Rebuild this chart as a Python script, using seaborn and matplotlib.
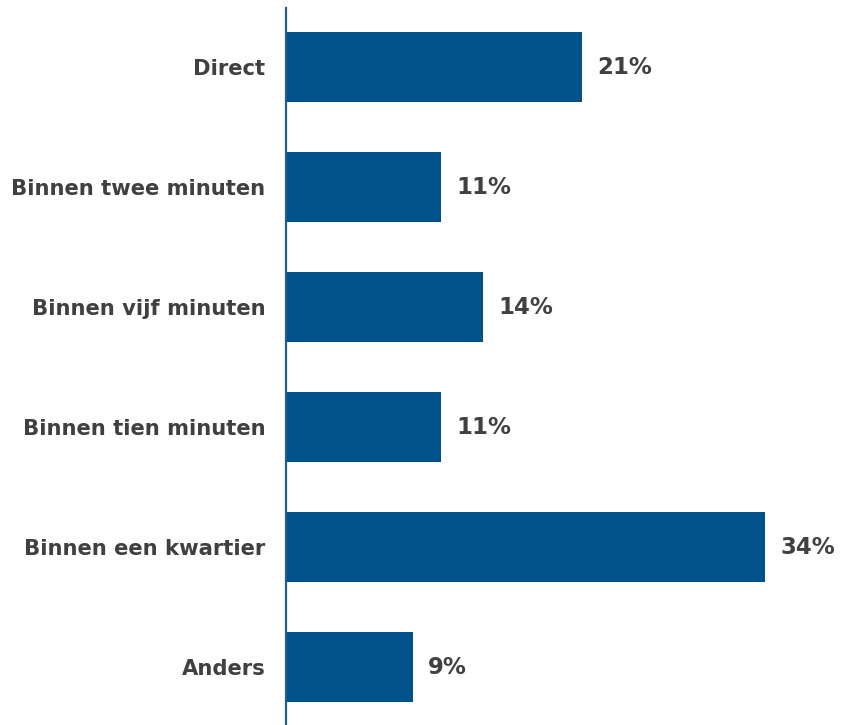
import matplotlib
matplotlib.use("Agg")
import matplotlib.pyplot as plt
import seaborn as sns
import pandas as pd

categories = ["Direct", "Binnen twee minuten", "Binnen vijf minuten",
              "Binnen tien minuten", "Binnen een kwartier", "Anders"]
percentages = [21, 11, 14, 11, 34, 9]
value_labels = ["21%", "11%", "14%", "11%", "34%", "9%"]

df = pd.DataFrame({"categorie": categories, "percentage": percentages})

sns.set_theme(style="white")
plt.rcParams["font.family"] = ["DejaVu Sans"]

bar_color = "#00528A"
text_color = "#404040"

fig = plt.figure(figsize=(8.41, 7.25), dpi=100)
ax = fig.add_axes([286 / 841, 0.0, 1 - 286 / 841, 1 - 8 / 725])

sns.barplot(data=df, x="percentage", y="categorie", order=categories,
            color=bar_color, saturation=1, width=0.59, linewidth=0,
            ax=ax, orient="h")

ax.set_xlim(0, 39.4)
ax.set_ylim(5.483, -0.492)

for i, (v, lab) in enumerate(zip(percentages, value_labels)):
    ax.annotate(lab, xy=(v, i), xytext=(11, 0), textcoords="offset points",
                ha="left", va="center", fontsize=16.5, fontweight="bold",
                color=text_color)

ax.set_xlabel("")
ax.set_ylabel("")
ax.set_xticks([])
ax.tick_params(axis="y", length=0, pad=15)
for t in ax.get_yticklabels():
    t.set_fontsize(15.2)
    t.set_fontweight("bold")
    t.set_color(text_color)

for side in ["top", "right", "bottom"]:
    ax.spines[side].set_visible(False)
ax.spines["left"].set_color("#1F5F95")
ax.spines["left"].set_linewidth(1.6)

fig.savefig("out.png", dpi=100)
